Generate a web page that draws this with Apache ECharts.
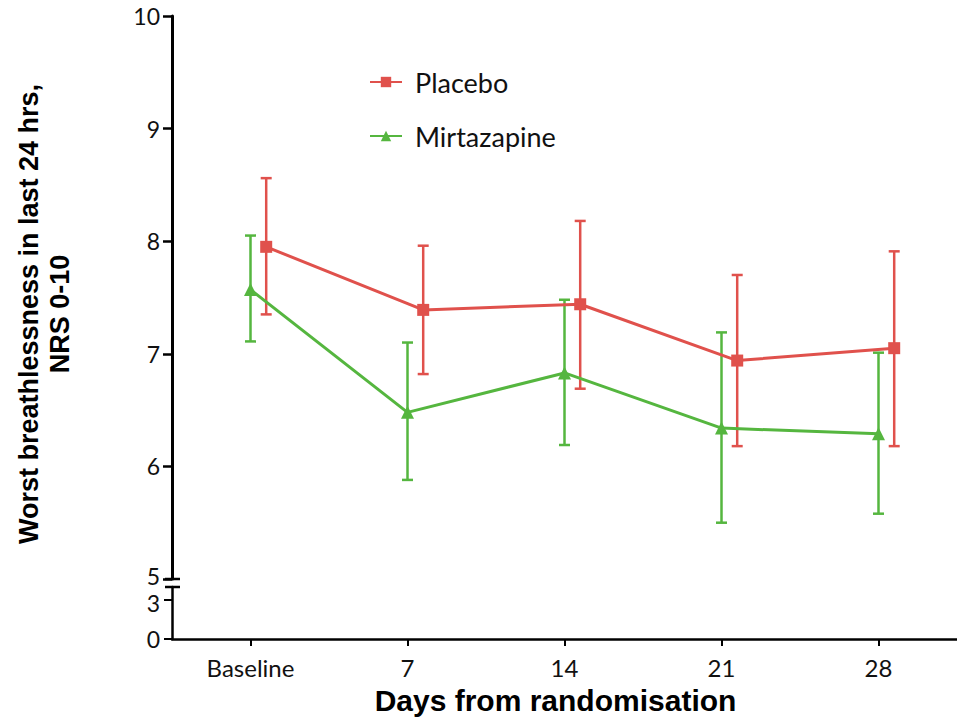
<!DOCTYPE html>
<html>
<head>
<meta charset="utf-8">
<script src="https://cdn.jsdelivr.net/npm/echarts@6.0.0/dist/echarts.min.js"></script>
<style>
  html, body { margin: 0; padding: 0; background: #fff; }
  #main { width: 957px; height: 721px; }
</style>
</head>
<body>
<div id="main"></div>
<script>
// data
const categories = ['Baseline', '7', '14', '21', '28'];
const days = [0, 7, 14, 21, 28];
const placeboMean = [7.95, 7.39, 7.44, 6.94, 7.05];
const placeboLow = [7.35, 6.82, 6.69, 6.18, 6.18];
const placeboHigh = [8.56, 7.96, 8.18, 7.70, 7.91];
const mirtMean = [7.57, 6.48, 6.83, 6.34, 6.29];
const mirtLow = [7.11, 5.88, 6.19, 5.50, 5.58];
const mirtHigh = [8.05, 7.10, 7.48, 7.19, 7.01];
const yTicksLower = [0, 3];

// placebo points are drawn a little to the right of the day, as in the original
const placeboShift = 0.7;

const red = '#e0514c';
const green = '#55b63f';
const labelFont = 'Lato';

const placeboX = days.map(d => d + placeboShift);

function errorBars(xs, lows, highs) {
  return xs.map((x, i) => [x, lows[i], highs[i]]);
}

function renderBar(color) {
  return function (params, api) {
    const top = api.coord([api.value(0), api.value(2)]);
    const bot = api.coord([api.value(0), api.value(1)]);
    const cap = 5.5;
    const style = { stroke: color, lineWidth: 2.5 };
    return {
      type: 'group',
      children: [
        { type: 'line', shape: { x1: top[0], y1: top[1], x2: bot[0], y2: bot[1] }, style: style },
        { type: 'line', shape: { x1: top[0] - cap, y1: top[1], x2: top[0] + cap, y2: top[1] }, style: style },
        { type: 'line', shape: { x1: bot[0] - cap, y1: bot[1], x2: bot[0] + cap, y2: bot[1] }, style: style }
      ]
    };
  };
}

const chart = echarts.init(document.getElementById('main'), null, { renderer: 'svg' });

const option = {
  animation: false,
  legend: {
    orient: 'vertical',
    left: 364,
    top: 63,
    itemWidth: 32,
    itemHeight: 13,
    itemGap: 26,
    data: ['Placebo', 'Mirtazapine'],
    textStyle: { fontFamily: labelFont, fontSize: 27, color: '#111', lineHeight: 28, padding: [0, 0, 0, 8] }
  },
  grid: [
    { left: 172, right: 0, top: 16, height: 563 },
    { left: 172, right: 0, top: 587, height: 52 }
  ],
  xAxis: [
    { gridIndex: 0, type: 'value', min: -3.5, max: 31.5, show: false },
    {
      gridIndex: 1,
      type: 'value',
      min: -3.5,
      max: 31.5,
      axisLine: { onZero: false, lineStyle: { color: '#000', width: 2.5 } },
      axisTick: { customValues: days, length: 7, lineStyle: { color: '#000', width: 2 } },
      axisLabel: {
        customValues: days,
        formatter: v => categories[days.indexOf(v)],
        fontFamily: labelFont,
        fontSize: 24,
        color: '#111',
        margin: 16
      },
      splitLine: { show: false },
      name: 'Days from randomisation',
      nameLocation: 'middle',
      nameGap: 46,
      nameTextStyle: { fontFamily: 'Liberation Sans', fontWeight: 'bold', fontSize: 30, color: '#000', padding: [0, 18, 0, 0] }
    }
  ],
  yAxis: [
    {
      gridIndex: 0,
      type: 'value',
      min: 5,
      max: 10,
      interval: 1,
      axisLine: { show: true, onZero: false, lineStyle: { color: '#000', width: 3 } },
      axisTick: { show: true, length: 9, lineStyle: { color: '#000', width: 2.5 } },
      axisLabel: {
        fontFamily: labelFont,
        fontSize: 23,
        color: '#111',
        margin: 12,
        formatter: v => (v === 5 ? '{up|5}' : String(v)),
        rich: { up: { fontFamily: labelFont, fontSize: 23, color: '#111', padding: [0, 0, 6, 0] } }
      },
      splitLine: { show: false }
    },
    {
      gridIndex: 1,
      type: 'value',
      min: 0,
      max: 4,
      axisLine: { show: true, onZero: false, lineStyle: { color: '#000', width: 2.5 } },
      axisTick: { show: true, customValues: yTicksLower, length: 8, lineStyle: { color: '#000', width: 2 } },
      axisLabel: {
        customValues: yTicksLower,
        fontFamily: labelFont,
        fontSize: 23,
        color: '#111',
        margin: 12,
        formatter: v => (v === 3 ? '{low|3}' : String(v)),
        rich: { low: { fontFamily: labelFont, fontSize: 23, color: '#111', padding: [6, 0, 0, 0] } }
      },
      splitLine: { show: false }
    }
  ],
  series: [
    {
      name: 'Placebo bars',
      type: 'custom',
      xAxisIndex: 0,
      yAxisIndex: 0,
      z: 1,
      renderItem: renderBar(red),
      encode: { x: 0, y: [1, 2] },
      data: errorBars(placeboX, placeboLow, placeboHigh)
    },
    {
      name: 'Mirtazapine bars',
      type: 'custom',
      xAxisIndex: 0,
      yAxisIndex: 0,
      z: 1,
      renderItem: renderBar(green),
      encode: { x: 0, y: [1, 2] },
      data: errorBars(days, mirtLow, mirtHigh)
    },
    {
      name: 'Placebo',
      type: 'line',
      xAxisIndex: 0,
      yAxisIndex: 0,
      z: 3,
      symbol: 'rect',
      symbolSize: 12,
      itemStyle: { color: red },
      lineStyle: { color: red, width: 3 },
      data: placeboX.map((x, i) => [x, placeboMean[i]])
    },
    {
      name: 'Mirtazapine',
      type: 'line',
      xAxisIndex: 0,
      yAxisIndex: 0,
      z: 3,
      symbol: 'triangle',
      symbolSize: 13,
      itemStyle: { color: green },
      lineStyle: { color: green, width: 3 },
      data: days.map((x, i) => [x, mirtMean[i]])
    }
  ]
};

chart.setOption(option);

// axis break marks and the rotated y title
const yTopBreak = chart.convertToPixel({ yAxisIndex: 0 }, 5);
const yLowBreak = chart.convertToPixel({ yAxisIndex: 1 }, 4);
const axisX = 172;
chart.setOption({
  graphic: [
    { type: 'line', shape: { x1: axisX - 7, y1: yTopBreak, x2: axisX + 8, y2: yTopBreak }, style: { stroke: '#000', lineWidth: 2.5 } },
    { type: 'line', shape: { x1: axisX - 7, y1: yLowBreak, x2: axisX + 8, y2: yLowBreak }, style: { stroke: '#000', lineWidth: 2.5 } },
    {
      type: 'text',
      x: 44,
      y: 314,
      rotation: Math.PI / 2,
      style: {
        text: 'Worst breathlessness in last 24 hrs,\nNRS 0-10',
        font: 'bold 27px "Liberation Sans"',
        fill: '#000',
        textAlign: 'center',
        textVerticalAlign: 'middle',
        lineHeight: 31
      }
    }
  ]
});

window.addEventListener('resize', () => {
  chart.resize();
});
</script>
</body>
</html>
